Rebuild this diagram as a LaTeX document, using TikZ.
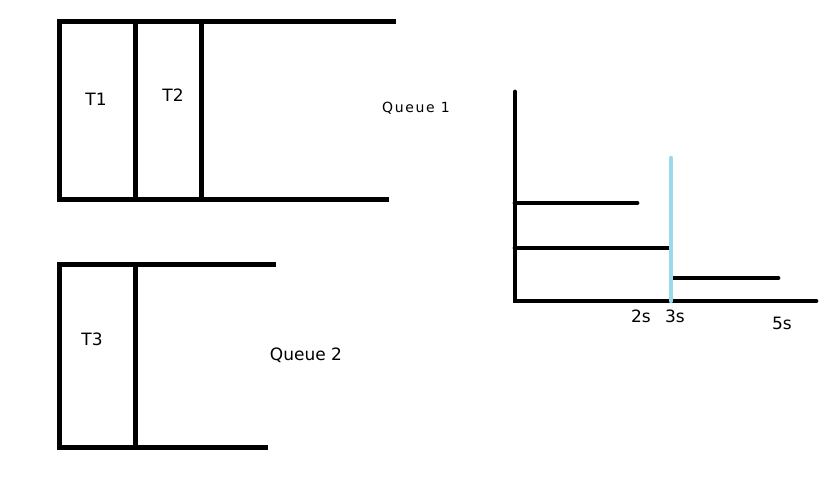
\documentclass[tikz,border=0pt]{standalone}
\usepackage{fontspec}
\setmainfont{DejaVu Sans}
\newfontfamily\qfont[LetterSpace=12]{DejaVu Sans}
\definecolor{paintblue}{RGB}{153,217,234}

\begin{document}
\begin{tikzpicture}[x=1pt,y=-1pt]
\tikzstyle{wall}=[line width=5pt,black,line join=miter]
\tikzstyle{bar}=[line width=4.8pt,black,line cap=round]
\tikzstyle{every node}=[inner sep=0pt,anchor=base,font=\fontsize{17}{20}\selectfont]
\useasboundingbox (0,0) rectangle (830,478);

% queue 1
\draw[wall] (396,22) -- (59,22) -- (59,200) -- (389,200);
\draw[wall] (135,22) -- (135,200);
\draw[wall] (201,22) -- (201,200);
\node (t1) at (96,105.5) {T1};
\node (t2) at (173,101.5) {T2};
\node[font=\qfont\fontsize{14}{16}\selectfont] (queue1) at (416,113) {Queue 1};

% queue 2
\draw[wall] (276,265) -- (59,265) -- (59,447) -- (268,447);
\draw[wall] (135,265) -- (135,447);
\node (t3) at (92,345) {T3};
\node (queue2) at (306,360.5) {Queue 2};

% timeline
\coordinate (top) at (515,92);
\coordinate (origin) at (515,301);
\coordinate (xend) at (816,301);
\draw[bar] (top) -- (origin) -- (xend);
\draw[bar] (origin |- 0,203) -- (637,203);
\draw[bar] (origin |- 0,248) -- (668,248);
\draw[bar] (674,278) -- (778,278);
\draw[line width=4.4pt,paintblue,line cap=round] (671,158) -- (671,301);
\node (s2) at (641,323) {2s};
\node (s3) at (675,323) {3s};
\node (s5) at (782,330) {5s};
\end{tikzpicture}
\end{document}
